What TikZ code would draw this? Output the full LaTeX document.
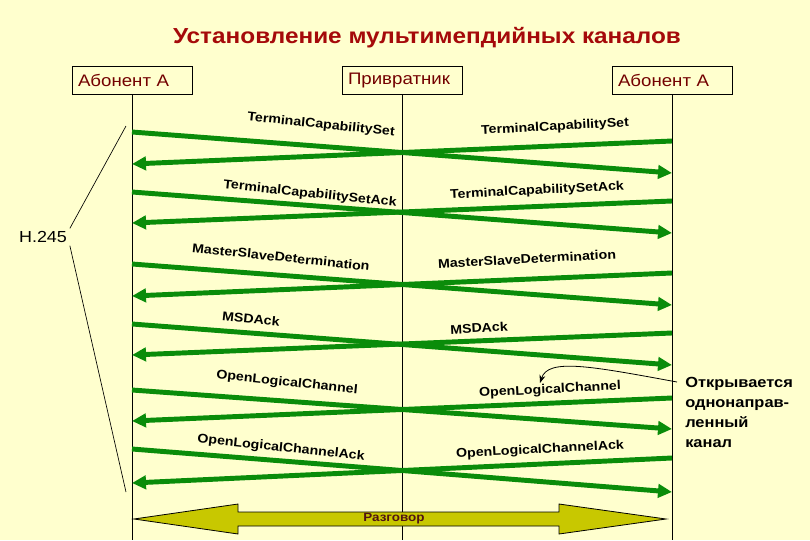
\documentclass[tikz,border=0pt]{standalone}
\usepackage{fontspec}
\setmainfont[FakeStretch=1.12]{Liberation Sans}
\usetikzlibrary{arrows.meta}
\definecolor{bgyellow}{RGB}{255,255,206}
\definecolor{msggreen}{RGB}{10,140,10}
\definecolor{titlered}{RGB}{165,10,10}
\definecolor{hdrred}{RGB}{115,0,0}
\definecolor{talkolive}{RGB}{200,200,0}
\definecolor{talkbrown}{RGB}{80,20,20}
\tikzset{
  hdr/.style={draw=black,line width=0.6pt,text=hdrred,font=\fontsize{12.5}{14}\selectfont,minimum width=90pt,minimum height=21pt,inner xsep=4.5pt,text width=81pt,align=left},
  life/.style={line width=0.5pt},
  msg/.style={draw=msggreen,line width=3.7pt,-{Triangle[length=10.5pt,width=10pt]}},
  lblL/.style={font=\bfseries\fontsize{9.5}{10}\selectfont,rotate=-6,inner sep=0pt},
  lblR/.style={font=\bfseries\fontsize{9.5}{10}\selectfont,rotate=3,inner sep=0pt}
}
\begin{document}
\begin{tikzpicture}[x=0.75pt,y=0.75pt,yscale=-1,xscale=1]

\fill[bgyellow] (0,0) rectangle (810,540);
\useasboundingbox (0,0) rectangle (810,540);

\node[anchor=base,text=titlered,font=\bfseries\fontsize{16.3}{18}\selectfont] (title) at (427,43) {Установление мультимепдийных каналов};

\node[hdr] (abA) at (132,80) {Абонент А};
\node[hdr] (gk) at (402,80) {Привратник};
\node[hdr] (abB) at (672,80) {Абонент А};

\coordinate (endA) at (132,540);
\coordinate (endG) at (402,540);
\coordinate (endB) at (672,540);
\draw[life] (abA.south) -- (endA);
\draw[life] (gk.south) -- (endG);
\draw[life] (abB.south) -- (endB);

\coordinate (m1a) at (132,132); \coordinate (m1b) at (672,173);
\coordinate (m1c) at (672,141); \coordinate (m1d) at (132,164);
\coordinate (m2a) at (132,192); \coordinate (m2b) at (672,233);
\coordinate (m2c) at (672,201); \coordinate (m2d) at (132,223);
\coordinate (m3a) at (132,264); \coordinate (m3b) at (672,305);
\coordinate (m3c) at (672,273); \coordinate (m3d) at (132,296);
\coordinate (m4a) at (132,324); \coordinate (m4b) at (672,365);
\coordinate (m4c) at (672,333); \coordinate (m4d) at (132,355);
\coordinate (m5a) at (132,390); \coordinate (m5b) at (672,429);
\coordinate (m5c) at (672,398); \coordinate (m5d) at (132,421);
\coordinate (m6a) at (132,449); \coordinate (m6b) at (672,492);
\coordinate (m6c) at (672,458); \coordinate (m6d) at (132,483);

\draw[msg] (m1a) -- (m1b);
\draw[msg] (m1c) -- (m1d);
\draw[msg] (m2a) -- (m2b);
\draw[msg] (m2c) -- (m2d);
\draw[msg] (m3a) -- (m3b);
\draw[msg] (m3c) -- (m3d);
\draw[msg] (m4a) -- (m4b);
\draw[msg] (m4c) -- (m4d);
\draw[msg] (m5a) -- (m5b);
\draw[msg] (m5c) -- (m5d);
\draw[msg] (m6a) -- (m6b);
\draw[msg] (m6c) -- (m6d);

\node[lblL] (tcsL) at (321,125) {TerminalCapabilitySet};
\node[lblR] (tcsR) at (555,127) {TerminalCapabilitySet};
\node[lblL] (tcsaL) at (310,194) {TerminalCapabilitySetAck};
\node[lblR] (tcsaR) at (537,191) {TerminalCapabilitySetAck};
\node[lblL] (msdL) at (281,257) {MasterSlaveDetermination};
\node[lblR] (msdR) at (527,259) {MasterSlaveDetermination};
\node[lblL] (msdaL) at (251,319) {MSDAck};
\node[lblR] (msdaR) at (479,328) {MSDAck};
\node[lblL] (olcL) at (287,383) {OpenLogicalChannel};
\node[lblR] (olcR) at (550,390) {OpenLogicalChannel};
\node[lblL] (olcaL) at (281,448) {OpenLogicalChannelAck};
\node[lblR] (olcaR) at (540,450) {OpenLogicalChannelAck};

\node[font=\fontsize{12}{14}\selectfont,inner sep=2pt] (h245) at (43,237) {H.245};
\coordinate (brTop) at (126,126);
\coordinate (brBot) at (126,492);
\draw[line width=0.5pt] (brTop) -- (h245.north east);
\draw[line width=0.5pt] (h245.south east) -- (brBot);

\node[anchor=north west,align=left,inner sep=0pt,font=\bfseries\fontsize{11}{15}\selectfont] (note) at (685,377) {Открывается\\однонаправ-\\ленный\\канал};
\coordinate (noteTip) at (540,383);
\draw[line width=0.6pt,-{Stealth[length=6pt,width=4.5pt]}] ([shift={(-8,5)}]note.north west) .. controls (590,366) and (548,358) .. (noteTip);

\draw[fill=talkolive,line width=0.6pt] (134,519) -- (238,504) -- (238,512) -- (559,512) -- (559,504) -- (666,519) -- (559,534) -- (559,526) -- (238,526) -- (238,534) -- cycle;
\node[text=talkbrown,font=\bfseries\fontsize{9}{10}\selectfont] (talk) at (394,519) {Разговор};

\end{tikzpicture}
\end{document}
